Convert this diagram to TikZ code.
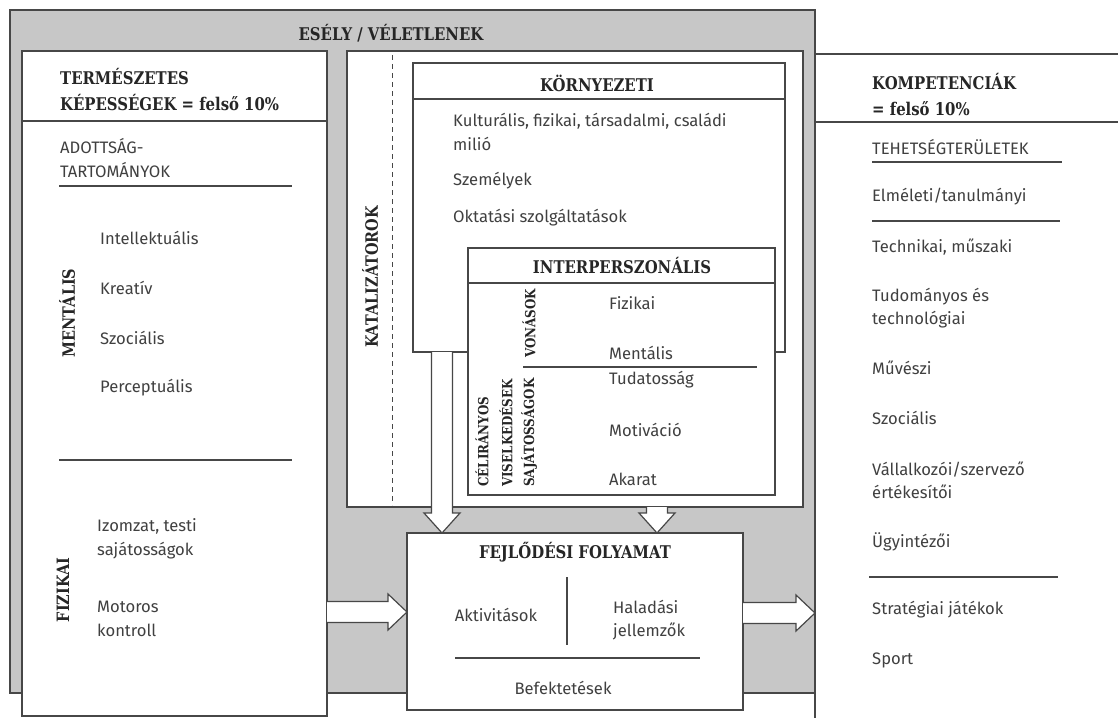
\documentclass[tikz,border=0pt]{standalone}
\usepackage{fontspec}
\setmainfont{Fira Sans}
\newfontfamily\slabfont[FakeStretch=0.85]{DejaVu Serif}
\usetikzlibrary{calc,positioning}

\newcommand\harrow[2]{%
    \draw[fatarrow] ($(#1)+(0,-10.5)$) -- ($(#2)+(-19,-10.5)$) -- ($(#2)+(-19,-18)$)
        -- (#2) -- ($(#2)+(-19,18)$) -- ($(#2)+(-19,10.5)$) -- ($(#1)+(0,10.5)$);}
\newcommand\varrow[2]{%
    \draw[fatarrow] ($(#1)+(-10.5,0)$) -- ($(#2)+(-10.5,-20)$) -- ($(#2)+(-18,-20)$)
        -- (#2) -- ($(#2)+(18,-20)$) -- ($(#2)+(10.5,-20)$) -- ($(#1)+(10.5,0)$);}

\begin{document}
\begin{tikzpicture}
[
    x=1pt, y=-1pt,
    panel/.style={draw=black!72, fill=white, line width=1.2pt, inner sep=0pt, outer sep=0pt, anchor=north west},
    rule/.style={draw=black!72, line width=1.2pt},
    fatarrow/.style={draw=black!72, fill=white, line width=1.2pt, line join=miter},
    head/.style={inner sep=0pt, align=left, text=black!85, font=\slabfont\bfseries\fontsize{17.5}{26}\selectfont},
    sidehead/.style={inner sep=0pt, rotate=90, text=black!85, font=\slabfont\bfseries\fontsize{17}{18}\selectfont},
    sidesmall/.style={sidehead, anchor=west, font=\slabfont\bfseries\fontsize{14}{15}\selectfont},
    item/.style={inner sep=0pt, anchor=west, align=left, text=black!75, font=\fontsize{16.6}{23.5}\selectfont},
]
\useasboundingbox (0,0) rectangle (1118,717);

\node[panel, fill=black!22, minimum width=805pt, minimum height=683pt] (chance) at (10,10) {};
\node[head] (chancetitle) at (391,33) {ESÉLY / VÉLETLENEK};

\node[panel, minimum width=320pt, minimum height=680pt] (comp) at (815,54) {};
\draw[rule] (815,122) -- (1118,122);
\node[head, anchor=west] (comptitle) at (872,95) {KOMPETENCIÁK\\= felső 10\%};
\node[item] (fields) at (872,147) {TEHETSÉGTERÜLETEK};
\draw[rule] (872,162) -- (1062,162);
\node[item] (theory) at (872,197) {Elméleti/tanulmányi};
\draw[rule] (872,221) -- (1060,221);
\node[item] (tech) at (872,247) {Technikai, műszaki};
\node[item] (science) at (872,308) {Tudományos és\\technológiai};
\node[item] (arts) at (872,368) {Művészi};
\node[item] (social) at (872,418) {Szociális};
\node[item] (business) at (872,480) {Vállalkozói/szervező\\értékesítői};
\node[item] (admin) at (872,542) {Ügyintézői};
\draw[rule] (869,577) -- (1058,577);
\node[item] (games) at (872,610) {Stratégiai játékok};
\node[item] (sport) at (872,660) {Sport};

\node[panel, minimum width=305pt, minimum height=665pt] (natural) at (22,51) {};
\node[head, anchor=west] (naturaltitle) at (60,90) {TERMÉSZETES\\KÉPESSÉGEK = felső 10\%};
\draw[rule] (22,121) -- (327,121);
\node[item] (domains) at (60,158) {ADOTTSÁG-\\TARTOMÁNYOK};
\draw[rule] (59,186) -- (292,186);
\node[sidehead] (mental) at (67,313) {MENTÁLIS};
\node[item] (intellect) at (100,238) {Intellektuális};
\node[item] (creative) at (100,288) {Kreatív};
\node[item] (socio) at (100,338) {Szociális};
\node[item] (percept) at (100,388) {Perceptuális};
\draw[rule] (59,460) -- (292,460);
\node[sidehead] (physical) at (63,590) {FIZIKAI};
\node[item] (muscle) at (97,539) {Izomzat, testi\\sajátosságok};
\node[item] (motor) at (97,619) {Motoros\\kontroll};

\node[panel, minimum width=456pt, minimum height=456pt] (catal) at (347,51) {};
\draw[rule, line width=0.9pt, dash pattern=on 5pt off 4pt] (392,55) -- (392,505);
\node[sidehead] (cataltitle) at (370,277) {KATALIZÁTOROK};

\node[panel, minimum width=372pt, minimum height=289pt] (env) at (413,63) {};
\node[head] (envtitle) at (597,83) {KÖRNYEZETI};
\draw[rule] (413,99) -- (785,99);
\node[item] (milieu) at (453,132) {Kulturális, fizikai, társadalmi, családi\\milió};
\node[item] (persons) at (453,181) {Személyek};
\node[item] (services) at (453,218) {Oktatási szolgáltatások};

\node[panel, minimum width=307pt, minimum height=247pt] (inter) at (468,248) {};
\node[head] (intertitle) at (622,266) {INTERPERSZONÁLIS};
\draw[rule] (468,283) -- (775,283);
\node[sidesmall] (goal) at (482,487) {CÉLIRÁNYOS};
\node[sidesmall] (behave) at (506,487) {VISELKEDÉSEK};
\node[sidesmall] (traits) at (529,487) {SAJÁTOSSÁGOK};
\node[sidesmall] (features) at (529,358) {VONÁSOK};
\draw[rule] (523,367) -- (757,367);
\node[item] (bodily) at (609,303) {Fizikai};
\node[item] (mind) at (609,353) {Mentális};
\node[item] (aware) at (609,380) {Tudatosság};
\node[item] (motive) at (609,430) {Motiváció};
\node[item] (will) at (609,479) {Akarat};

\node[panel, minimum width=336pt, minimum height=177pt] (devel) at (407,533) {};
\node[head] (develtitle) at (575,552) {FEJLŐDÉSI FOLYAMAT};
\draw[rule] (567,577) -- (567,645);
\node[item, anchor=center] (activity) at (496,615) {Aktivitások};
\node[item] (progress) at (613,620) {Haladási\\jellemzők};
\draw[rule] (455,658) -- (700,658);
\node[item, anchor=center] (invest) at (563,688) {Befektetések};

\varrow{env.south -| 442,0}{devel.north -| 442,0}
\varrow{catal.south -| 657,0}{devel.north -| 657,0}
\harrow{natural.east |- 0,612}{devel.west |- 0,612}
\harrow{devel.east |- 0,613}{comp.west |- 0,613}
\end{tikzpicture}
\end{document}
